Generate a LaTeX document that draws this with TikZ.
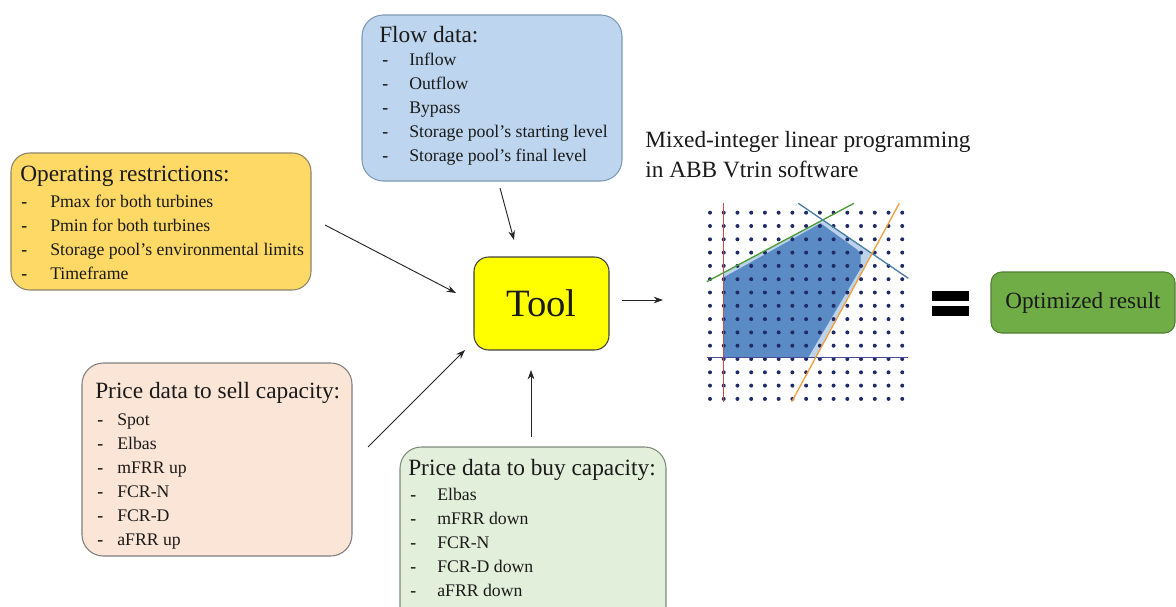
\documentclass[tikz,border=0pt]{standalone}
\usepackage{fontspec}
\setmainfont{Liberation Serif}
\usetikzlibrary{arrows.meta,fit}
\definecolor{txt}{HTML}{1A1A1A}
\definecolor{flowfill}{HTML}{BDD5EE}
\definecolor{flowline}{HTML}{7F9AB5}
\definecolor{opfill}{HTML}{FFD966}
\definecolor{opline}{HTML}{8C8468}
\definecolor{sellfill}{HTML}{FBE5D6}
\definecolor{sellline}{HTML}{7F7F7F}
\definecolor{buyfill}{HTML}{E2EFDA}
\definecolor{buyline}{HTML}{7F8A7A}
\definecolor{toolfill}{HTML}{FFFF00}
\definecolor{toolline}{HTML}{404040}
\definecolor{resfill}{HTML}{70AD47}
\definecolor{resline}{HTML}{507E32}
\definecolor{dotc}{HTML}{1F2A66}
\definecolor{darkreg}{HTML}{5B8BC4}
\definecolor{lightreg}{HTML}{BCD3EA}
\definecolor{lred}{HTML}{C0504D}
\definecolor{lpurple}{HTML}{4B4B9B}
\definecolor{lgreen}{HTML}{4E9A3A}
\definecolor{lblue}{HTML}{4A7EA8}
\definecolor{lorange}{HTML}{F0A040}
\tikzset{
  titletext/.style={anchor=west, inner sep=0pt, font=\fontsize{17.5}{20}\selectfont, text=txt, text height=12pt, text depth=3.5pt},
  itemtext/.style={anchor=west, inner sep=0pt, font=\fontsize{13.3}{16}\selectfont, text=txt, text height=9.5pt, text depth=2.8pt},
  box/.style={draw, rounded corners=#1, line width=0.8pt, inner sep=0pt},
  box/.default=15pt,
  conn/.style={-{Stealth[length=7pt,width=5pt]}, line width=0.7pt, black!85},
  chartline/.style={line width=1pt},
}
\begin{document}
\begin{tikzpicture}[x=0.75pt,y=-0.75pt]
\useasboundingbox (0,0) rectangle (1176,606);

% boxes
\node[box=16pt, fill=flowfill, draw=flowline, fit={(362,15) (622,181)}] (flow) {};
\node[box=14pt, fill=opfill, draw=opline, fit={(11,153) (311,290)}] (oper) {};
\node[box=16pt, fill=sellfill, draw=sellline, fit={(82,363) (352,556)}] (sell) {};
\node[box=16pt, fill=buyfill, draw=buyline, fit={(400,447) (666,630)}] (buy) {};
\node[box=11pt, fill=toolfill, draw=toolline, fit={(474,257) (609,350)}] (tool) {};
\node[box=8pt, fill=resfill, draw=resline, fit={(991,272) (1175,333)}] (res) {};

% texts
\node[titletext] (flowtitle) at (379,37) {Flow data:};
\foreach \t [count=\i] in {Inflow, Outflow, Bypass, Storage pool’s starting level, Storage pool’s final level} {
  \node[itemtext] (flowdash\i) at (382,{61+24*(\i-1)}) {\textbf{-}};
  \node[itemtext] (flowitem\i) at (409,{61+24*(\i-1)}) {\t};
}
\node[titletext] (opertitle) at (20,176) {Operating restrictions:};
\foreach \t [count=\i] in {Pmax for both turbines, Pmin for both turbines, Storage pool’s environmental limits, Timeframe} {
  \node[itemtext] (operdash\i) at (21,{203+24*(\i-1)}) {\textbf{-}};
  \node[itemtext] (operitem\i) at (50,{203+24*(\i-1)}) {\t};
}
\node[titletext] (selltitle) at (95,393) {Price data to sell capacity:};
\foreach \t [count=\i] in {Spot, Elbas, mFRR up, FCR-N, FCR-D, aFRR up} {
  \node[itemtext] (selldash\i) at (97,{421+24*(\i-1)}) {\textbf{-}};
  \node[itemtext] (sellitem\i) at (117,{421+24*(\i-1)}) {\t};
}
\node[titletext] (buytitle) at (408,470) {Price data to buy capacity:};
\foreach \t [count=\i] in {Elbas, mFRR down, FCR-N, FCR-D down, aFRR down} {
  \node[itemtext] (buydash\i) at (410,{496+24*(\i-1)}) {\textbf{-}};
  \node[itemtext] (buyitem\i) at (437,{496+24*(\i-1)}) {\t};
}
\node[inner sep=0pt, font=\fontsize{29}{32}\selectfont, text=txt] (tooltext) at (tool.center) {Tool};
\node[inner sep=0pt, font=\fontsize{17.4}{20}\selectfont, text=txt] (restext) at (res.center) {Optimized result};
\node[titletext] (charttitle1) at (645,142) {Mixed-integer linear programming};
\node[titletext] (charttitle2) at (645,172) {in ABB Vtrin software};

% equals sign
\node[fill=black, inner sep=0pt, fit={(932,291) (969,301)}] (eqtop) {};
\node[fill=black, inner sep=0pt, fit={(932,306) (969,316)}] (eqbot) {};

% arrows
\coordinate (a1s) at (325,225); \coordinate (a1e) at (456,293);
\coordinate (a2s) at (500,188); \coordinate (a2e) at (514,240);
\coordinate (a3s) at (368,447); \coordinate (a3e) at (465,350);
\coordinate (a4s) at (531,437); \coordinate (a4e) at (531,370);
\coordinate (a5s) at (622,300); \coordinate (a5e) at (663,300);
\draw[conn] (a1s) -- (a1e);
\draw[conn] (a2s) -- (a2e);
\draw[conn] (a3s) -- (a3e);
\draw[conn] (a4s) -- (a4e);
\draw[conn] (a5s) -- (a5e);

% chart
\fill[lightreg] (723.7,272.6) -- (822.7,220) -- (872,253.6) -- (815.8,357.3) -- (723.7,357.3) -- cycle;
\fill[darkreg] (723.7,277.3) -- (820.7,223.3) -- (856.7,249.3) -- (860.7,253.3) -- (860.7,268.3) -- (808.3,357.3) -- (723.7,357.3) -- cycle;
\foreach \i in {0,...,14} {
  \foreach \j in {0,...,14} {
    \fill[dotc] ({710+13.73*\i},{212.7+13.3*\j}) circle (1.5pt);
  }
}
\draw[chartline, lred] (723.7,203) -- (723.7,401.7);
\draw[chartline, lpurple] (706.7,357.3) -- (908.3,357.3);
\draw[chartline, lgreen] (706.7,281.7) -- (854,203.3);
\draw[chartline, lblue] (798.3,203.3) -- (908.3,278.3);
\draw[chartline, lorange] (791.7,401.7) -- (899.3,203.3);
\end{tikzpicture}
\end{document}
